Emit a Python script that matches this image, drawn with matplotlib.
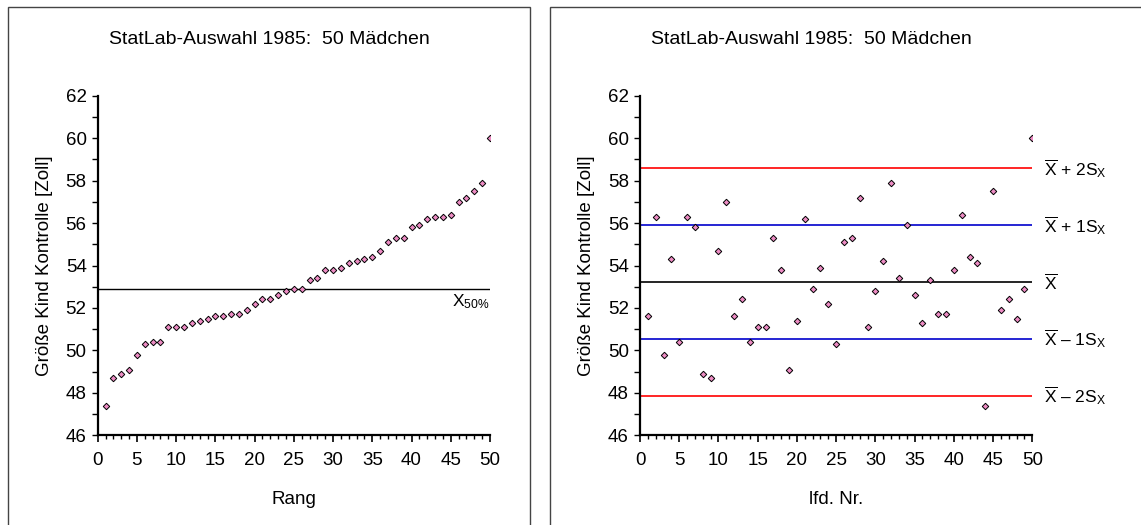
import matplotlib
matplotlib.use("Agg")
import matplotlib.pyplot as plt
from matplotlib.patches import Rectangle
from matplotlib.ticker import MultipleLocator
import numpy as np

plt.rcParams['font.family'] = ['Liberation Sans', 'DejaVu Sans']
plt.rcParams['mathtext.fontset'] = 'custom'
plt.rcParams['mathtext.rm'] = 'Liberation Sans'
plt.rcParams['mathtext.it'] = 'Liberation Sans:italic'

# Körpergröße (Zoll) der 50 Mädchen, in laufender Reihenfolge
groesse = [51.6, 56.3, 49.8, 54.3, 50.4, 56.3, 55.8, 48.9, 48.7, 54.7,
           57.0, 51.6, 52.4, 50.4, 51.1, 51.1, 55.3, 53.8, 49.1, 51.4,
           56.2, 52.9, 53.9, 52.2, 50.3, 55.1, 55.3, 57.2, 51.1, 52.8,
           54.2, 57.9, 53.4, 55.9, 52.6, 51.3, 53.3, 51.7, 51.7, 53.8,
           56.4, 54.4, 54.1, 47.4, 57.5, 51.9, 52.4, 51.5, 52.9, 60.0]
titel = "StatLab-Auswahl 1985:  50 Mädchen"
ylabel = "Größe Kind Kontrolle [Zoll]"

werte = np.array(groesse)
nr = np.arange(1, len(werte) + 1)
sortiert = np.sort(werte)
median = np.median(werte)
mittel = werte.mean()
s = werte.std(ddof=1)

W, H = 1141, 525
fig = plt.figure(figsize=(W / 100, H / 100), dpi=100)

# Rahmen um die beiden Diagramme
fig.add_artist(Rectangle((8 / W, -0.1), 522 / W, 1.1 - 7.5 / H, transform=fig.transFigure,
                         fill=False, edgecolor='#444444', lw=1.0))
fig.add_artist(Rectangle((550 / W, -0.1), 0.6, 1.1 - 7.5 / H, transform=fig.transFigure,
                         fill=False, edgecolor='#444444', lw=1.0))

fig.text(269 / W, 1 - 40 / H, titel, ha='center', va='center', fontsize=14)
fig.text(811 / W, 1 - 40 / H, titel, ha='center', va='center', fontsize=14)

ax1 = fig.add_axes([97.7 / W, 1 - 435.3 / H, 392.3 / W, 339.6 / H])
ax2 = fig.add_axes([640 / W, 1 - 435.3 / H, 392.3 / W, 339.6 / H])

mk = dict(ls='none', marker='D', ms=3.3, mfc='#EE8CC4', mec='black', mew=0.7, zorder=3)

ax1.plot(nr, sortiert, **mk)
ax1.axhline(median, color='black', lw=1.0)
ax1.text(50, median - 0.15, r'X$_{\mathrm{50\%}}$', ha='right', va='top', fontsize=12.5)
ax1.set_xlabel('Rang', fontsize=13.5, labelpad=16)

ax2.plot(nr, werte, **mk)
linien = [(mittel + 2 * s, 'red', r'$\overline{\mathrm{X}}$ + 2S$_{\mathrm{X}}$'),
          (mittel + s, '#0000CC', r'$\overline{\mathrm{X}}$ + 1S$_{\mathrm{X}}$'),
          (mittel, 'black', r'$\overline{\mathrm{X}}$'),
          (mittel - s, '#0000CC', r'$\overline{\mathrm{X}}$ – 1S$_{\mathrm{X}}$'),
          (mittel - 2 * s, 'red', r'$\overline{\mathrm{X}}$ – 2S$_{\mathrm{X}}$')]
for y, farbe, txt in linien:
    ax2.axhline(y, color=farbe, lw=1.2)
    ax2.text(51.5, y, txt, ha='left', va='center', fontsize=12.5, clip_on=False)
ax2.set_xlabel('lfd. Nr.', fontsize=13.5, labelpad=16)

for ax in (ax1, ax2):
    ax.set_xlim(0, 50)
    ax.set_ylim(46, 62)
    ax.xaxis.set_major_locator(MultipleLocator(5))
    ax.xaxis.set_minor_locator(MultipleLocator(1))
    ax.yaxis.set_major_locator(MultipleLocator(2))
    ax.yaxis.set_minor_locator(MultipleLocator(1))
    ax.tick_params(axis='x', which='major', length=5, width=1.2, labelsize=13.5, pad=7)
    ax.tick_params(axis='x', which='minor', length=3, width=1.0)
    ax.tick_params(axis='y', which='both', length=4, width=1.0, labelsize=13.5, pad=4)
    for sp in ('top', 'right'):
        ax.spines[sp].set_visible(False)
    for sp in ('left', 'bottom'):
        ax.spines[sp].set_linewidth(1.6)
    ax.set_ylabel(ylabel, fontsize=13.5, labelpad=9)
    ax.patch.set_alpha(0)

fig.savefig('out.png', dpi=100)
